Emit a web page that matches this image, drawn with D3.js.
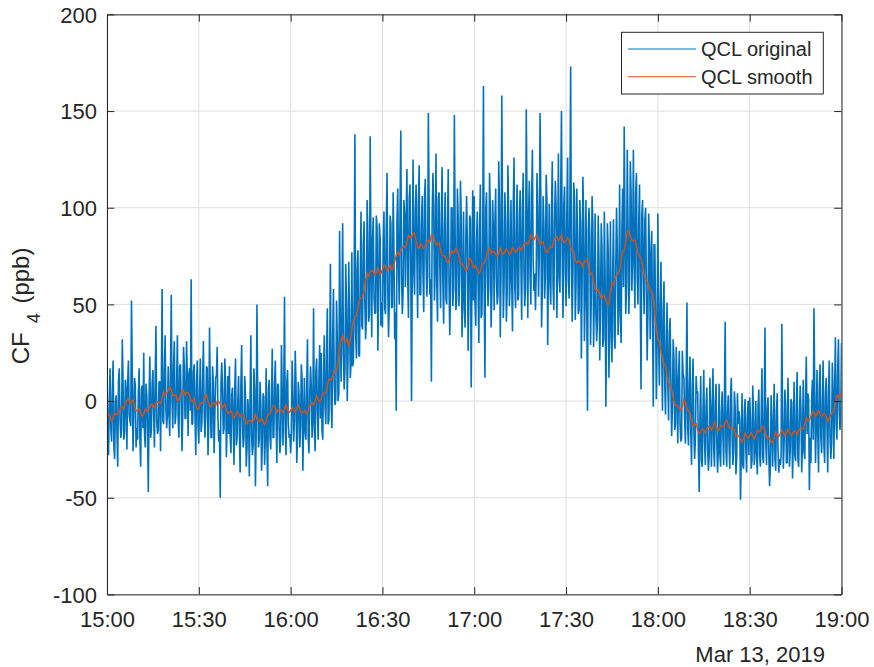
<!DOCTYPE html>
<html><head><meta charset="utf-8">
<script src="https://cdn.jsdelivr.net/npm/d3@7"></script>
<style>
body{margin:0;background:#fff}
svg{display:block}
text{font-family:"Liberation Sans",Arial,Helvetica,sans-serif;fill:#262626}
</style>
</head><body>
<svg id="chart" width="874" height="667"></svg>
<script>
// ---- data ----
const startTime = new Date(2019, 2, 13, 15, 0, 0);
const endTime = new Date(2019, 2, 13, 19, 0, 0);
const yTickValues = [-100, -50, 0, 50, 100, 150, 200];
const xTickLabels = ["15:00","15:30","16:00","16:30","17:00","17:30","18:00","18:30","19:00"];
const dateLabel = "Mar 13, 2019";
const seriesNames = ["QCL original", "QCL smooth"];
const yLabelMain = "CF";
const yLabelSub = "4";
const yLabelUnit = " (ppb)";

// QCL original, one row per 10 minutes (15 s samples)
const originalValues = [
 10,-20,-28,1,17,-14,-21,5,21,-24,-30,-1,3,-16,-34,10,17,-9,-19,-15,32,9,-20,-16,11,5,-25,10,21,-7,-10,-13,52,15,-26,-8,12,8,-24,-14,
 -20,4,17,-19,-34,6,8,-14,25,-17,-24,9,3,-17,-47,2,23,-19,-15,9,16,-7,-24,12,39,-10,-17,-15,10,10,-26,8,58,-10,-12,16,34,-4,-14,-7,
 18,-6,-18,15,55,0,-14,18,31,-12,-7,9,34,-9,-19,18,19,-1,-26,-7,28,18,-9,-9,31,11,-18,14,17,-5,63,-12,-12,15,19,-7,-28,9,21,-13,
 -22,5,22,-16,-11,11,31,-6,-19,-7,18,17,-28,-12,38,5,-19,-19,18,9,-27,-6,12,13,28,-9,-21,-15,-50,9,20,6,-17,-14,22,10,-29,-12,13,-17,
 18,-18,-27,3,7,-12,-33,7,22,-23,-19,0,13,-16,-37,9,29,-11,-24,-19,13,3,-34,-24,1,-5,-39,0,34,-18,-28,-23,17,6,-44,-15,50,2,-24,-20,
 10,-1,-36,-23,4,2,-33,-18,17,-21,-44,6,11,-19,-25,1,27,-19,-19,8,21,-9,-32,9,8,-14,-27,-19,29,5,-23,4,54,-15,-28,10,16,-12,-19,-17,
 -27,-17,21,4,-21,-10,26,10,-32,-19,10,3,-24,-13,19,11,-36,-10,12,-17,-20,6,32,-19,-27,3,18,8,-19,-9,48,-14,-26,15,22,-6,-20,12,29,-9,
 25,-15,-20,15,34,-3,-12,24,48,-12,-10,19,71,-1,-14,34,58,9,-2,1,52,32,0,4,88,36,10,44,92,24,6,16,71,51,0,22,72,42,12,20,
 77,18,20,54,138,35,22,68,78,24,23,62,98,39,37,81,93,51,32,44,104,85,41,45,137,77,33,83,95,54,45,46,96,90,26,56,92,84,39,51,
 38,82,98,48,45,89,118,58,33,53,96,92,48,49,108,80,32,46,-5,93,110,69,50,99,140,64,45,57,104,96,59,94,120,64,43,105,112,74,0,67,
 125,68,55,99,112,75,43,103,122,55,55,91,106,66,46,106,115,74,54,64,149,102,55,63,10,96,118,101,52,71,128,61,41,105,108,70,48,96,121,61,
 40,89,108,53,50,91,120,62,34,58,100,100,49,58,148,88,47,53,110,95,49,67,114,94,33,57,98,48,38,84,106,82,26,52,96,94,7,62,109,52,
 106,50,39,83,98,60,30,90,112,43,45,80,163,57,12,99,108,69,49,59,118,98,38,56,104,88,47,93,110,63,50,55,124,101,33,67,158,95,43,61,
 108,91,41,56,122,97,49,66,104,61,36,102,126,59,48,88,112,52,55,97,109,71,42,101,118,67,49,59,151,98,43,96,114,65,50,106,130,73,57,66,
 47,66,118,98,54,76,149,105,38,58,106,92,53,65,117,104,29,71,102,61,50,99,124,60,47,93,114,100,43,72,128,64,56,108,150,74,43,101,111,67,
 49,97,126,62,53,102,173,72,41,67,113,105,42,59,110,86,45,47,104,91,22,64,116,93,31,57,104,50,-5,88,100,86,29,55,106,92,28,55,97,45,
 31,42,96,73,21,49,92,78,28,32,98,66,-3,40,92,79,12,46,93,33,20,69,94,34,27,71,100,78,34,51,112,44,30,90,110,59,142,90,45,59,
 130,92,45,62,124,107,57,76,130,70,48,108,118,64,50,92,112,54,6,96,104,67,45,94,100,56,21,45,97,79,32,75,88,42,-3,81,81,46,1,32,
 97,31,8,50,72,26,-5,46,62,8,-7,31,51,9,-10,35,43,8,-18,-3,32,22,-15,-12,28,9,-22,12,26,-12,-21,-19,26,14,12,-10,-22,11,51,-14,
 -23,8,23,-16,-33,7,22,-15,-30,-20,13,4,5,-25,-47,-8,13,-31,-34,-5,16,-21,-33,-3,7,-24,-36,-29,12,-4,-34,-6,17,-25,-34,0,9,-21,-37,-25,
 9,-27,-34,-5,5,-18,-33,2,41,-26,-34,-5,3,-22,-35,3,12,-18,-33,-26,5,-3,-38,-30,4,-12,-5,-9,-51,-28,4,-33,-35,-5,1,-25,-37,-8,0,-28,
 2,-9,-35,-31,8,-6,-33,-25,0,-28,-38,-2,6,-28,-34,-9,17,-29,-32,-3,38,-21,-33,-4,2,-28,-44,-34,3,-11,-34,-12,9,-30,-36,-5,4,-25,-37,-30,
 -33,-29,40,-8,-35,-21,6,-2,-32,-32,12,-10,-34,-26,1,-1,-40,-21,10,-28,-31,-4,15,-30,-34,-9,8,-5,-37,-22,11,-26,-30,3,23,-17,4,1,-46,-19,
 -32,1,11,-20,48,6,-32,-13,16,-17,-37,8,19,-19,-27,-1,21,-23,-32,4,12,-13,-37,5,21,-18,-30,-22,20,4,-30,5,33,-12,-20,15,32,-5,-15,-9,
 30
];

// QCL smooth, one row per 10 minutes (30 s samples)
const smoothValues = [
 -8,-6.8,-8.5,-10.3,-9,-6,-7,-7,-5,-3,-3,-4,-1,0.5,1,-1.3,-0.5,0.8,-3,-5,
 -5,-4,-6,-8,-7,-4,-5,-5,-3,-1.5,-2,-3.5,-1,-0.3,-0.5,-1.3,1,4.8,3.5,3.8,
 6,7.3,5.5,2.8,3,3.5,0,0.5,3,5.4,5.7,3.1,4.5,4.3,3,0,0,1.5,-2,-4,
 -4,-1,-1,-0.5,3,3.5,0,-2.5,-3,-1,-1,-2.5,0,-0.3,-1.5,-3.8,-3,-1.3,-4.5,-6.3,
 -6,-5,-7,-8.8,-7.5,-5.3,-7,-8,-7,-7,-9,-12,-11,-10,-10,-11,-9,-6.8,-9.5,-10.8,
 -10,-8.8,-10.5,-12.3,-11,-7,-7,-6,-3,-2.3,-3.5,-6,-4.5,-4.3,-5,-6,-4,-1.8,-4.5,-5.8,
 -5,-3.3,-4.5,-5.8,-4,-2,-4,-6,-6,-5,-6,-6.5,-3,-1.5,-1,-2,0,2.8,0.5,-0.3,
 1,4,4,4.5,8,11.5,11,11.5,14,16,16,20,28,31.5,34,31,31,32,28,31.5,
 37,41.5,43,44,48,52.5,53,54,57,62.5,66,64.5,67,67.5,67,65.3,66.5,68.8,66,66,
 68,70.3,69.5,67.5,68.5,70.3,68,69,72,75.5,77,75.5,78,79.5,80,79.5,82,85.8,84.5,84.8,
 87,86.5,83,79.5,79,81.5,80,79,80,82.5,83,82.5,86,85.3,83.5,80.8,81,82,78,75.5,
 75,75,72,71.5,74,77.5,77,77,79,78,75,71,71,70,68,67.5,70,74,73,70,
 69,70,68,66,67,71,71,72,75,78,79,76.3,77.5,77.3,76,74.8,76.5,79.3,77,76,
 77,78.8,77.5,75.8,77,79.5,78,77,78,79.5,79,77.8,80.5,81.8,82,81,83,86,84,83.5,
 85,85.8,83.5,81.3,82,82.5,79,77,77,79.5,80,79.5,83,84.5,85,83,84,86,83,82,
 83,84.5,83,79,78,77.5,73,71.5,72,72.5,71,69.5,72,73,73,68,66,66,61,58,
 57,57.8,55.5,53.3,54,55,52,50,50,56.5,61,60.3,63.5,65.3,66,67.5,72,77.5,78,82,
 88,88.3,85.5,82.8,83,83.5,80,76.5,75,73.5,70,64.5,63,62,60,57,57,53.5,45,37.5,
 32,30.5,26,21.3,19.5,18.3,13,9.3,7.5,5.8,2,-2,-2,-2.5,-4,-4.8,-2.5,0.8,-1,-4,
 -5,-6,-10,-12.8,-12.5,-11.8,-15,-16.5,-16,-14.5,-15,-16.5,-14,-13.3,-13.5,-15,-13.5,-10.8,-13,-15,
 -15,-12.5,-13,-13.5,-11,-9.8,-12.5,-14.3,-14,-13.5,-15,-18.3,-17.5,-18.3,-20,-21.3,-19.5,-16.5,-18.5,-19.3,
 -18,-16.5,-18,-19.5,-18,-15,-16,-15.5,-13,-13.3,-15.5,-19,-18.5,-19.3,-21,-21.5,-19,-16,-18,-18.5,
 -17,-15,-16,-17.8,-16.5,-14.5,-16.5,-17.8,-17,-15.5,-16,-17.5,-15,-14,-14,-14.5,-12,-8.5,-10,-10,
 -8,-5.5,-6,-7.8,-6.5,-4.8,-7,-8,-7,-6.5,-8,-10.5,-9,-7,-6,-5,-1,3,2,2.5,
 5
];

const colors = {original: "#0072BD", smooth: "#D95319", axis: "#262626", grid: "#dfdfdf"};

// ---- layout ----
const svg = d3.select("#chart");
const L = 107, R = 841.5, T = 14.4, B = 594.4;
const x = d3.scaleTime().domain([startTime, endTime]).range([L, R]);
const y = d3.scaleLinear().domain([-100, 200]).range([B, T]);
const xTickValues = xTickLabels.map((_, i) => d3.timeMinute.offset(startTime, i * 30));

const span = endTime - startTime;
const origData = originalValues.map((v, i) => ({t: new Date(+startTime + span * i / (originalValues.length - 1)), v}));
const smoothData = smoothValues.map((v, i) => ({t: new Date(+startTime + span * i / (smoothValues.length - 1)), v}));

// grid
const grid = svg.append("g");
grid.selectAll("line.gx").data(xTickValues).join("line")
  .attr("x1", d => x(d)).attr("x2", d => x(d)).attr("y1", T).attr("y2", B)
  .attr("stroke", colors.grid).attr("stroke-width", 1);
grid.selectAll("line.gy").data(yTickValues).join("line")
  .attr("x1", L).attr("x2", R).attr("y1", d => y(d)).attr("y2", d => y(d))
  .attr("stroke", colors.grid).attr("stroke-width", 1);

svg.append("clipPath").attr("id", "clip").append("rect")
  .attr("x", L).attr("y", T).attr("width", R - L).attr("height", B - T);

const line = d3.line().x(d => x(d.t)).y(d => y(d.v));
const plot = svg.append("g").attr("clip-path", "url(#clip)");
plot.append("path").datum(origData).attr("d", line)
  .attr("fill", "none").attr("stroke", colors.original).attr("stroke-width", 1.6)
  .attr("stroke-linejoin", "bevel");
plot.append("path").datum(smoothData).attr("d", line)
  .attr("fill", "none").attr("stroke", colors.smooth).attr("stroke-width", 1.4);

// axes (box with inward ticks)
const tickLen = 7.3;
const xAxisB = d3.axisBottom(x).tickValues(xTickValues).tickFormat((d, i) => xTickLabels[i]).tickSizeInner(-tickLen).tickSizeOuter(0).tickPadding(17);
const xAxisT = d3.axisTop(x).tickValues(xTickValues).tickFormat("").tickSizeInner(-tickLen).tickSizeOuter(0);
const yAxisL = d3.axisLeft(y).tickValues(yTickValues).tickFormat(d => String(d)).tickSizeInner(-tickLen).tickSizeOuter(0).tickPadding(10);
const yAxisR = d3.axisRight(y).tickValues(yTickValues).tickFormat("").tickSizeInner(-tickLen).tickSizeOuter(0);

function styleAxis(g) {
  g.select(".domain").attr("stroke", colors.axis).attr("stroke-width", 1);
  g.selectAll(".tick line").attr("stroke", colors.axis).attr("stroke-width", 1);
  g.selectAll(".tick text").attr("fill", colors.axis).style("font-size", "22px")
    .style("font-family", '"Liberation Sans", Arial, sans-serif');
}
svg.append("g").attr("transform", `translate(0,${B})`).call(xAxisB).call(styleAxis)
  .selectAll(".tick text").attr("dy", "0.71em");
svg.append("g").attr("transform", `translate(0,${T})`).call(xAxisT).call(styleAxis);
svg.append("g").attr("transform", `translate(${L},0)`).call(yAxisL).call(styleAxis)
  .selectAll(".tick text").attr("dy", "0.36em");
svg.append("g").attr("transform", `translate(${R},0)`).call(yAxisR).call(styleAxis);

// date label
svg.append("text").attr("x", 825).attr("y", 662).attr("text-anchor", "end")
  .style("font-size", "22px").text(dateLabel);

// y label
const yl = svg.append("text").attr("transform", `translate(28.5,${(T + B) / 2 + 1.5}) rotate(-90)`)
  .attr("text-anchor", "middle").style("font-size", "24px");
yl.append("tspan").text(yLabelMain);
yl.append("tspan").attr("dx", 9).attr("dy", 11).style("font-size", "18px").text(yLabelSub);
yl.append("tspan").attr("dx", 3).attr("dy", -11).text(yLabelUnit);

// legend
const lg = svg.append("g");
lg.append("rect").attr("x", 621.5).attr("y", 32.3).attr("width", 201.8).attr("height", 61.7)
  .attr("fill", "#fff").attr("stroke", colors.axis).attr("stroke-width", 1);
const legendItems = [{name: seriesNames[0], color: colors.original}, {name: seriesNames[1], color: colors.smooth}];
legendItems.forEach((it, i) => {
  const cy = 49 + i * 27.7;
  lg.append("line").attr("x1", 628).attr("x2", 696).attr("y1", cy).attr("y2", cy)
    .attr("stroke", it.color).attr("stroke-width", 1.1);
  lg.append("text").attr("x", 701).attr("y", cy).attr("dy", "0.35em")
    .style("font-size", "20px").text(it.name);
});
</script>
</body></html>
